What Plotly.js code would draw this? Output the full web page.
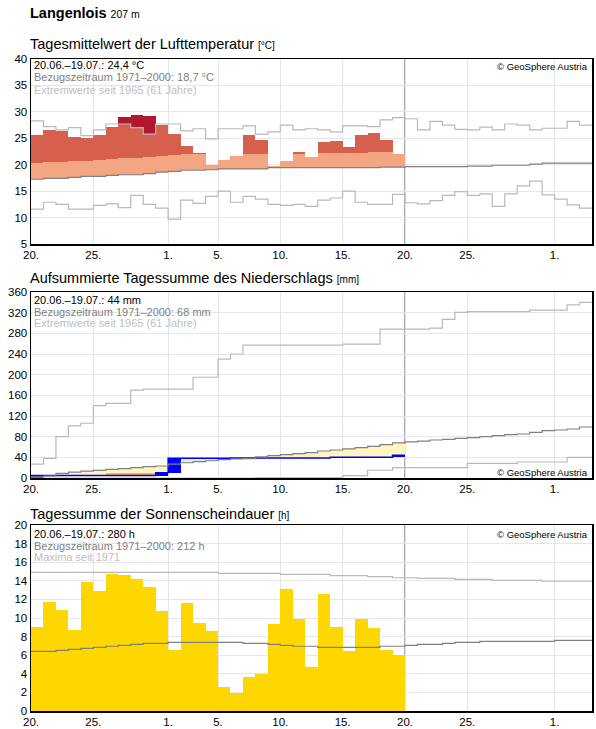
<!DOCTYPE html>
<html><head><meta charset="utf-8">
<script src="https://cdn.plot.ly/plotly-3.0.1.min.js"></script>
<style>html,body{margin:0;padding:0;background:#fff;}#chart{width:596px;height:729px;}</style>
</head><body><div id="chart"></div>
<script>
// ---------- DATA (x = days since 20.06.) ----------
const tickDays   = [0, 5, 11, 15, 20, 25, 30, 35, 42];
const tickLabels = ['20.', '25.', '1.', '5.', '10.', '15.', '20.', '25.', '1.'];

// Temperature (°C), observed 20.06.–19.07.
const tempObs  = [25.6, 26.6, 26.4, 25.3, 25.1, 25.6, 27.2, 29.0, 29.4, 29.2, 27.5, 25.8, 23.6, 22.2, 20.0,
                  20.9, 21.7, 25.6, 24.7, 19.8, 20.7, 22.4, 21.5, 24.3, 24.5, 23.4, 25.6, 26.0, 24.7, 22.05];
const tempBand = [20.3, 20.5, 20.5, 20.7, 20.7, 20.9, 21.1, 21.3, 21.3, 21.5, 21.7, 21.9, 22.05, 22.1, 22.1,
                  22.1, 22.1, 22.05, 22.05, 22.1, 22.1, 22.05, 22.1, 22.2, 22.2, 22.2, 22.3, 22.4, 22.4, 22.4];
const tempRef  = [17.25, 17.4, 17.4, 17.6, 17.8, 17.8, 18.0, 18.1, 18.1, 18.3, 18.6, 18.75, 18.95, 18.95, 19.05,
                  19.2, 19.2, 19.2, 19.2, 19.45, 19.45, 19.45, 19.45, 19.45, 19.45, 19.45, 19.45, 19.45, 19.55, 19.55,
                  19.65, 19.65, 19.65, 19.65, 19.65, 19.75, 19.75, 19.9, 19.9, 19.9, 20.1, 20.3, 20.3, 20.3, 20.3];
const tempMax  = [28.3, 27.2, 26.6, 27.0, 25.5, 26.6, 27.7, 27.7, 27.0, 25.8, 27.7, 27.7, 26.4, 26.8, 24.9,
                  26.8, 26.8, 27.35, 25.8, 26.2, 27.5, 26.6, 26.8, 26.6, 26.2, 27.35, 27.35, 27.2, 28.5, 28.9,
                  28.7, 26.6, 28.2, 27.5, 26.7, 26.6, 27.1, 26.6, 27.7, 27.5, 26.6, 26.9, 26.9, 28.2, 27.5];
const tempMin  = [11.6, 12.9, 12.5, 11.6, 11.6, 12.3, 12.6, 11.9, 14.2, 12.5, 11.8, 9.7, 13.3, 12.7, 14.0,
                  15.0, 12.9, 14.0, 13.5, 12.5, 12.3, 12.5, 12.1, 13.3, 13.7, 15.0, 12.9, 12.5, 12.5, 14.4,
                  12.8, 12.6, 13.2, 14.2, 14.9, 14.2, 14.5, 12.1, 14.5, 16.0, 16.9, 14.3, 13.5, 12.4, 11.8];

// Precipitation (mm)
const precipDaily = [4.8, 0, 0, 0, 0, 0, 0, 0, 0, 0, 5.4, 28.2, 0, 0, 0,
                     0, 0.3, 0, 0, 0, 0, 0, 0, 0, 1.4, 0, 0, 0, 0, 3.9];
const precipRef = [2.2, 3.9, 8.8, 11.3, 13.3, 14.8, 16.5, 18.1, 20.0, 21.9, 23.2, 27.0, 29.5, 31.5, 33.4,
                   35.6, 36.8, 37.6, 40.8, 43.4, 45.3, 47.2, 49.2, 52.3, 54.2, 56.2, 58.8, 61.3, 64.6, 68.0,
                   70.0, 71.5, 73.5, 74.8, 76.8, 78.1, 80.0, 81.9, 83.9, 85.2, 88.4, 91.6, 92.9, 94.8, 98.7];
const precipMax = [27, 38, 80, 101, 106, 140, 144.5, 144.5, 170, 172, 172, 172, 172, 195, 195,
                   230, 240, 257, 257, 257, 257, 257, 257, 257, 257, 259, 259, 259, 288, 288,
                   288, 288, 290, 307, 320.6, 322, 322, 322, 322, 322, 325, 325, 325, 335, 340];
const precipMin = [0, 0, 0, 0, 0, 0, 0, 0, 0, 0, 0, 0, 0, 0, 0,
                   0, 0, 0, 1, 1, 1, 1, 1, 1, 1, 4.5, 4.5, 15, 15, 20,
                   20, 20, 20, 20, 20, 28.4, 28.4, 28.4, 28.4, 31, 31, 31, 31, 40, 40];
const precipDryBand = [null, null, null, null, null, null, 9.0, 9.0, 9.0, 10.3, null, null, null, null, null,
                       null, null, null, null, null, null, null, null, null, null, null, null, null, null, null];

// Sunshine (h)
const sunObs = [9.0, 11.75, 10.9, 8.75, 13.9, 12.9, 14.75, 14.6, 14.2, 13.3, 10.8, 6.6, 11.6, 9.45, 8.6,
                2.6, 1.95, 3.65, 4.0, 9.35, 13.1, 9.9, 4.75, 12.6, 9.05, 6.45, 9.9, 8.9, 6.55, 6.0];
const sunRef = [6.42, 6.42, 6.52, 6.63, 6.74, 6.85, 6.96, 7.06, 7.17, 7.28, 7.28, 7.38, 7.38, 7.38, 7.38,
                7.38, 7.38, 7.28, 7.28, 7.17, 7.06, 6.96, 6.96, 6.85, 6.85, 6.85, 6.85, 6.85, 6.96, 6.96,
                7.06, 7.17, 7.17, 7.28, 7.38, 7.38, 7.49, 7.49, 7.49, 7.49, 7.49, 7.49, 7.6, 7.6, 7.6];
const sunMax = [14.9, 14.9, 14.9, 14.9, 14.9, 14.9, 14.9, 14.9, 14.9, 14.9, 14.9, 14.9, 14.9, 14.9, 14.9,
                14.8, 14.8, 14.8, 14.8, 14.8, 14.7, 14.7, 14.7, 14.7, 14.55, 14.55, 14.55, 14.44, 14.44, 14.33,
                14.33, 14.27, 14.27, 14.27, 14.16, 14.16, 14.16, 14.05, 14.05, 14.05, 14.05, 13.95, 13.95, 13.95, 13.95];

const stationTitle = 'Langenlois';
const stationHeight = '207 m';
const panelTitles = ['Tagesmittelwert der Lufttemperatur', 'Aufsummierte Tagessumme des Niederschlags', 'Tagessumme der Sonnenscheindauer'];
const panelUnits = ['[°C]', '[mm]', '[h]'];
const panel1Lines = ['20.06.–19.07.: 24,4 °C', 'Bezugszeitraum 1971–2000: 18,7 °C', 'Extremwerte seit 1965 (61 Jahre)'];
const panel2Lines = ['20.06.–19.07.: 44 mm', 'Bezugszeitraum 1971–2000: 68 mm', 'Extremwerte seit 1965 (61 Jahre)'];
const panel3Lines = ['20.06.–19.07.: 280 h', 'Bezugszeitraum 1971–2000: 212 h', 'Maxima seit 1971'];
const copyright = '© GeoSphere Austria';

// ---------- helpers ----------
const W = 596, H = 729;
const FONT = 'Liberation Sans, Arial, sans-serif';
const px = x => x / W, py = y => 1 - y / H;
const nRange = tempMax.length;
const obsEnd = tempObs.length;

function stepXY(vals) {
  const x = [], y = [];
  vals.forEach((v, i) => { x.push(i); y.push(v); });
  x.push(vals.length); y.push(vals[vals.length - 1]);
  return {x, y};
}
function stepLine(vals, color, width, xa, ya) {
  const s = stepXY(vals);
  return {type: 'scatter', mode: 'lines', x: s.x, y: s.y, xaxis: xa, yaxis: ya,
          line: {shape: 'hv', color: color, width: width}, hoverinfo: 'skip', showlegend: false};
}
function barTrace(bases, heights, color, xa, ya) {
  const x = [], b = [], h = [];
  heights.forEach((v, i) => { if (v !== null && v > 0) { x.push(i + 0.5); b.push(bases[i]); h.push(v); } });
  return {type: 'bar', x: x, y: h, base: b, width: 1, xaxis: xa, yaxis: ya,
          marker: {color: color, line: {width: 0}}, hoverinfo: 'skip', showlegend: false};
}

const LIGHT = '#b9b9b9', DARK = '#808080';
const traces = [];

// ---------- Panel 1: temperature ----------
const salmonB = [], salmonH = [], redB = [], redH = [], dredB = [], dredH = [];
tempObs.forEach((o, i) => {
  const r = tempRef[i], band = tempBand[i], mx = tempMax[i];
  salmonB.push(Math.min(o, r)); salmonH.push(Math.abs(Math.min(o, band) - r));
  redB.push(band); redH.push(o > band ? Math.min(o, mx) - band : null);
  dredB.push(mx); dredH.push(o > mx ? o - mx : null);
});
traces.push(barTrace(salmonB, salmonH, '#f4a582', 'x', 'y'));
traces.push(barTrace(redB, redH, '#d6604d', 'x', 'y'));
traces.push(barTrace(dredB, dredH, '#b2182b', 'x', 'y'));
traces.push(stepLine(tempMax, LIGHT, 1.2, 'x', 'y'));
traces.push(stepLine(tempMin, LIGHT, 1.2, 'x', 'y'));
traces.push(stepLine(tempRef, DARK, 1.2, 'x', 'y'));

// ---------- Panel 2: precipitation ----------
const precipCum = [];
precipDaily.reduce((acc, v) => { const c = acc + v; precipCum.push(c); return c; }, 0);
const yelB = [], yelH = [], grnB = [], grnH = [], orB = [], orH = [], blB = [], blH = [];
precipCum.forEach((c, i) => {
  const r = precipRef[i];
  if (r > c) { yelB.push(c); yelH.push(r - c); grnB.push(0); grnH.push(null); }
  else { grnB.push(r); grnH.push(c - r); yelB.push(0); yelH.push(null); }
  const d = precipDryBand[i];
  orB.push(c); orH.push(d !== null && d > c ? d - c : null);
  blB.push(c - precipDaily[i]); blH.push(precipDaily[i]);
});
traces.push(barTrace(yelB, yelH, '#fff5bf', 'x2', 'y2'));
traces.push(barTrace(grnB, grnH, '#e1f1d9', 'x2', 'y2'));
traces.push(barTrace(orB, orH, '#fdb54a', 'x2', 'y2'));
traces.push(barTrace(blB, blH, '#0000ff', 'x2', 'y2'));
traces.push(stepLine(precipCum, '#0000ff', 1.5, 'x2', 'y2'));
traces.push(stepLine(precipMax, LIGHT, 1.2, 'x2', 'y2'));
traces.push(stepLine(precipMin, LIGHT, 1.2, 'x2', 'y2'));
traces.push(stepLine(precipRef, DARK, 1.2, 'x2', 'y2'));

// ---------- Panel 3: sunshine ----------
traces.push(barTrace(sunObs.map(() => 0), sunObs, '#ffd700', 'x3', 'y3'));
traces.push(stepLine(sunMax, LIGHT, 1.2, 'x3', 'y3'));
traces.push(stepLine(sunRef, DARK, 1.2, 'x3', 'y3'));

// ---------- layout ----------
const tickFont = {family: FONT, size: 11.5, color: '#000'};
function xAx(anchor) {
  return {domain: [px(31), px(592)], range: [0, nRange], anchor: anchor, tickmode: 'array',
          tickvals: tickDays, ticktext: tickLabels, showgrid: true, gridcolor: '#e6e6e6', gridwidth: 1,
          zeroline: false, showline: true, mirror: true, linecolor: '#000', linewidth: 1.5,
          ticks: '', tickfont: tickFont, fixedrange: true};
}
function yAx(anchor, top, bottom, range, dtick) {
  return {domain: [py(bottom), py(top)], range: range, dtick: dtick, anchor: anchor,
          showgrid: true, gridcolor: '#e6e6e6', gridwidth: 1, zeroline: false, showline: true, mirror: true,
          linecolor: '#000', linewidth: 1.5, ticks: '', tickfont: tickFont, fixedrange: true};
}

const ann = [];
function txt(text, x, y, size, color, xanchor) {
  ann.push({text: text, x: px(x), y: py(y), xref: 'paper', yref: 'paper', xanchor: xanchor || 'left',
            yanchor: 'middle', showarrow: false, borderpad: 0,
            font: {family: FONT, size: size, color: color}});
}
txt('<b>' + stationTitle + '</b> <span style="font-size:10.5px">' + stationHeight + '</span>', 29, 13.5, 14.5, '#000');
const titleY = [44, 278, 514];
panelTitles.forEach((t, i) => txt(t + ' <span style="font-size:10px">' + panelUnits[i] + '</span>', 29, titleY[i], 14.5, '#000'));
const lineColors = ['#000', '#7f7f7f', '#c0c0c0'];
[[panel1Lines, [65, 77.5, 89.5]], [panel2Lines, [300, 311.5, 323]], [panel3Lines, [534, 545.5, 557]]].forEach(([lines, ys]) => {
  lines.forEach((l, j) => txt(l, 33, ys[j], 11, lineColors[j]));
});
txt(copyright, 589, 66, 9.5, '#000', 'right');
txt(copyright, 589, 472.5, 9.5, '#000', 'right');
txt(copyright, 589, 534, 9.5, '#000', 'right');

const shapes = [['x', 'y'], ['x2', 'y2'], ['x3', 'y3']].map(([xa, ya]) => ({
  type: 'line', xref: xa, yref: ya + ' domain', x0: obsEnd, x1: obsEnd, y0: 0, y1: 1,
  line: {color: '#707070', width: 1.2}, layer: 'below'}));

const layout = {
  width: W, height: H, margin: {l: 0, r: 0, t: 0, b: 0}, paper_bgcolor: '#fff', plot_bgcolor: '#fff',
  showlegend: false, barmode: 'overlay', bargap: 0, font: {family: FONT},
  xaxis: xAx('y'), yaxis: yAx('x', 59, 244, [5, 40], 5),
  xaxis2: xAx('y2'), yaxis2: yAx('x2', 292, 478, [0, 360], 40),
  xaxis3: xAx('y3'), yaxis3: yAx('x3', 525, 711, [0, 20], 2),
  annotations: ann, shapes: shapes
};
Plotly.newPlot('chart', traces, layout, {staticPlot: true, displayModeBar: false});
</script>
</body></html>
